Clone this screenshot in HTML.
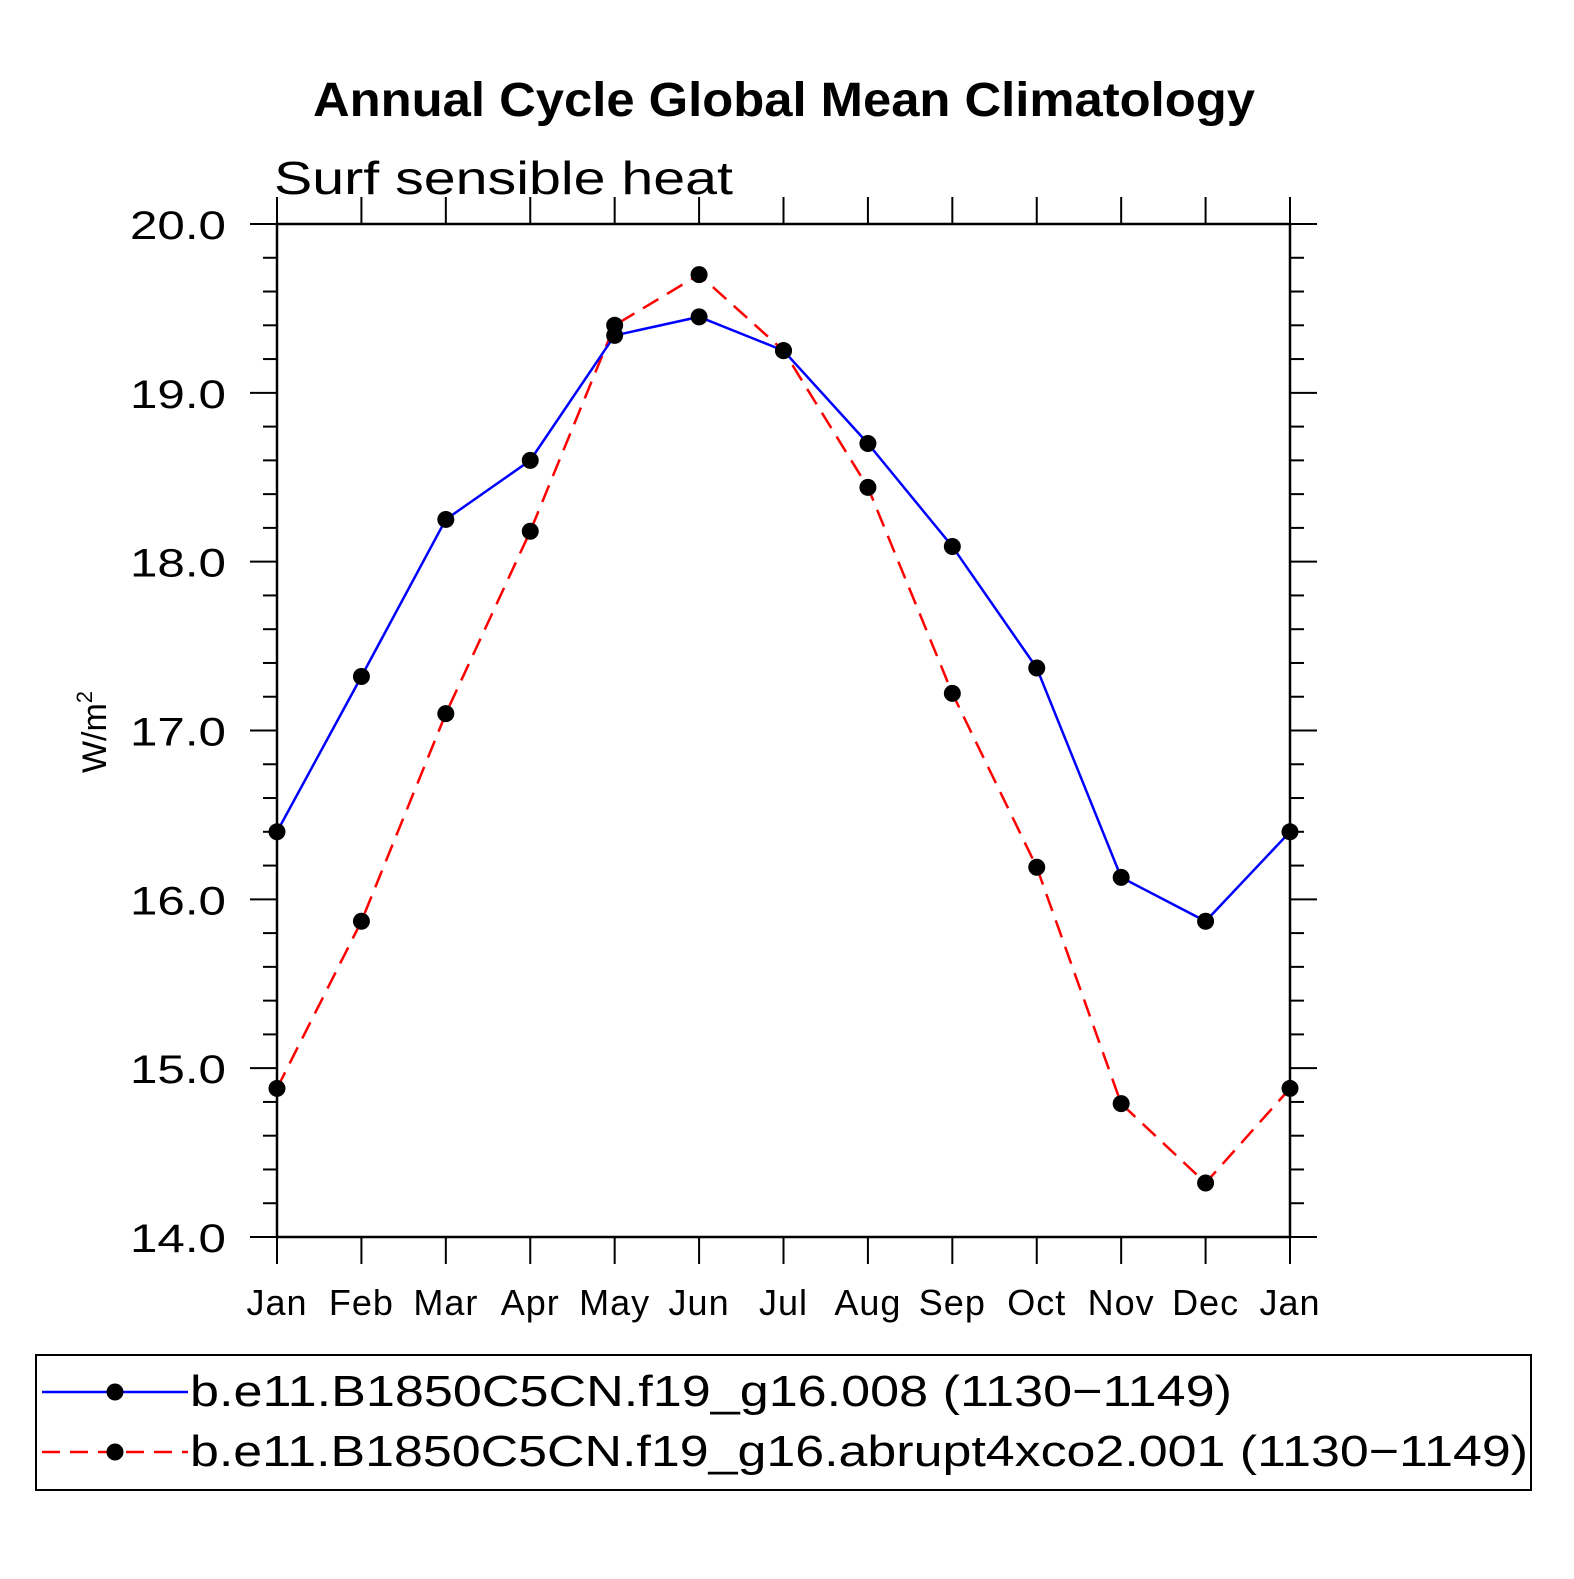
<!DOCTYPE html>
<html><head><meta charset="utf-8"><style>
html,body{margin:0;padding:0;background:#fff}
svg text{font-family:"Liberation Sans",sans-serif}
</style></head><body>
<svg id="c" width="1574" height="1574" viewBox="0 0 1574 1574">
<text x="313" y="116" textLength="942" lengthAdjust="spacingAndGlyphs" font-size="48" font-weight="bold">Annual Cycle Global Mean Climatology</text>
<text x="274" y="194" textLength="459" lengthAdjust="spacingAndGlyphs" font-size="46">Surf sensible heat</text>
<text transform="translate(106,732) rotate(-90)" text-anchor="middle" font-size="34">W/m<tspan font-size="22" dy="-14">2</tspan></text>
<g id="axes"></g>
<g id="series"></g>
<rect x="36" y="1355" width="1495" height="135" fill="none" stroke="#000" stroke-width="2"/>
<g>
<line x1="42" y1="1392" x2="188" y2="1392" stroke="#00f" stroke-width="2.5"/>
<circle cx="115" cy="1392" r="8.5"/>
<text x="190" y="1406" textLength="1042" lengthAdjust="spacingAndGlyphs" font-size="44">b.e11.B1850C5CN.f19_g16.008 (1130−1149)</text>
</g>
<g>
<line x1="42" y1="1452" x2="188" y2="1452" stroke="#f00" stroke-width="2.5" stroke-dasharray="18,10"/>
<circle cx="115" cy="1452" r="8.5"/>
<text x="190" y="1466" textLength="1338" lengthAdjust="spacingAndGlyphs" font-size="44">b.e11.B1850C5CN.f19_g16.abrupt4xco2.001 (1130−1149)</text>
</g>
</svg>
<script>
const months=["Jan","Feb","Mar","Apr","May","Jun","Jul","Aug","Sep","Oct","Nov","Dec","Jan"];
const controlValues=[16.40,17.32,18.25,18.60,19.34,19.45,19.25,18.70,18.09,17.37,16.13,15.87,16.40];
const abruptValues=[14.88,15.87,17.10,18.18,19.40,19.70,19.25,18.44,17.22,16.19,14.79,14.32,14.88];
const yTicks=[14,15,16,17,18,19,20];
const yTickLabels=["14.0","15.0","16.0","17.0","18.0","19.0","20.0"];
const NS="http://www.w3.org/2000/svg";
const X0=277,X1=1290,Y0=1237,Y1=224,YMIN=14,YMAX=20;
const xs=i=>X0+(X1-X0)*i/(months.length-1);
const ys=v=>Y0-(Y0-Y1)*(v-YMIN)/(YMAX-YMIN);
function mk(t,a,p){const e=document.createElementNS(NS,t);for(const k in a)e.setAttribute(k,a[k]);p.appendChild(e);return e;}
const ax=document.getElementById('axes');
const fr=mk('rect',{x:X0,y:Y1,width:X1-X0,height:Y0-Y1,fill:'none',stroke:'#000','stroke-width':2.5},ax);


for(let v=YMIN;v<=YMAX+1e-9;v+=0.2){
  const y=ys(v);const major=Math.abs(v-Math.round(v))<1e-6;const L=major?27:14;
  mk('line',{x1:X0-L,y1:y,x2:X0,y2:y,stroke:'#000','stroke-width':2},ax);
  mk('line',{x1:X1,y1:y,x2:X1+L,y2:y,stroke:'#000','stroke-width':2},ax);
}
yTicks.forEach((v,i)=>{
  const t=mk('text',{x:130,y:ys(v)+15,textLength:96,lengthAdjust:'spacingAndGlyphs','font-size':40},ax);
  t.textContent=yTickLabels[i];
  
  
});
months.forEach((m,i)=>{
  const x=xs(i);
  mk('line',{x1:x,y1:Y1-27,x2:x,y2:Y1,stroke:'#000','stroke-width':2},ax);
  mk('line',{x1:x,y1:Y0,x2:x,y2:Y0+27,stroke:'#000','stroke-width':2},ax);
  const t=mk('text',{x:x,y:1315,'text-anchor':'middle','font-size':36,'letter-spacing':1},ax);
  t.textContent=m;
  
  
});
const sg=document.getElementById('series');
function series(vals,color,dash,name){
  const g=mk('g',{},sg);
  
  
  const a={points:vals.map((v,i)=>xs(i)+','+ys(v)).join(' '),fill:'none',stroke:color,'stroke-width':2.5};
  if(dash)a['stroke-dasharray']=dash;
  mk('polyline',a,g);
  vals.forEach((v,i)=>{
    const c=mk('circle',{cx:xs(i),cy:ys(v),r:8.5,fill:'#000'},g);
    
    
  });
}
series(abruptValues,'#f00','18,10','abrupt4xco2-series');
series(controlValues,'#00f',null,'control-series');
</script>
</body></html>
